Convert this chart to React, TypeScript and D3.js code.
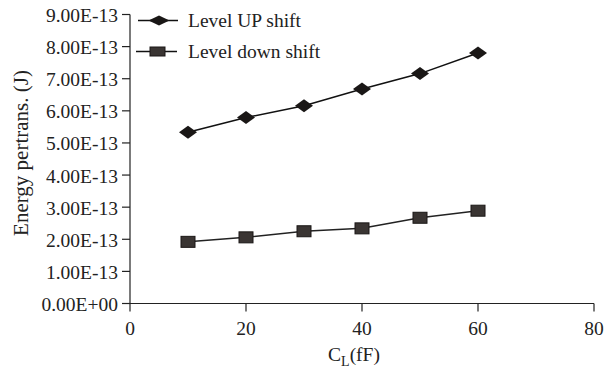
import React from "react";
import * as d3 from "d3";

const xValues = [10, 20, 30, 40, 50, 60];
const levelUp = [5.33e-13, 5.79e-13, 6.16e-13, 6.68e-13, 7.16e-13, 7.8e-13];
const levelDown = [1.92e-13, 2.06e-13, 2.25e-13, 2.34e-13, 2.67e-13, 2.89e-13];
const xTicks = [0, 20, 40, 60, 80];
const yTicks = [0, 1e-13, 2e-13, 3e-13, 4e-13, 5e-13, 6e-13, 7e-13, 8e-13, 9e-13];
const seriesNames = ["Level UP shift", "Level down shift"];

const W = 614;
const H = 368;
const FONT = "Liberation Serif, Times New Roman, Times, serif";

function fmt(v: number): string {
  if (v === 0) return "0.00E+00";
  const e = Math.floor(Math.log10(v) + 1e-9);
  const m = v / Math.pow(10, e);
  const sign = e < 0 ? "-" : "+";
  return `${m.toFixed(2)}E${sign}${String(Math.abs(e)).padStart(2, "0")}`;
}

const txt: React.CSSProperties = { fontFamily: FONT, fontSize: "19.5px" };

export default function App() {
  const x = d3.scaleLinear().domain([0, 80]).range([130, 594]);
  const y = d3.scaleLinear().domain([0, 9e-13]).range([303.5, 14.5]);
  const line = d3
    .line<number>()
    .x((_, i) => x(xValues[i]))
    .y((d) => y(d));

  const diamond = (cx: number, cy: number, w: number, h: number) =>
    `M${cx - w / 2},${cy} L${cx},${cy - h / 2} L${cx + w / 2},${cy} L${cx},${cy + h / 2} Z`;

  return (
    <svg
      width={W}
      height={H}
      style={{ position: "absolute", left: 0, top: 0, background: "#fff", fontFamily: FONT }}
    >
      {/* Y axis */}
      <line x1={130} x2={130} y1={y(9e-13)} y2={y(0)} stroke="#222" strokeWidth={1.2} />
      {yTicks.map((t) => (
        <g key={t}>
          <line x1={122} x2={130} y1={y(t)} y2={y(t)} stroke="#222" strokeWidth={1.2} />
          <text
            x={118}
            y={y(t) + 3}
            textAnchor="end"
            dominantBaseline="middle"
            style={txt}
            fill="#222"
          >
            {fmt(t)}
          </text>
        </g>
      ))}
      {/* X axis */}
      <line x1={x(0)} x2={x(80)} y1={y(0)} y2={y(0)} stroke="#222" strokeWidth={1.2} />
      {xTicks.map((t) => (
        <g key={t}>
          <line x1={x(t)} x2={x(t)} y1={y(0)} y2={y(0) + 8} stroke="#222" strokeWidth={1.2} />
          <text x={x(t)} y={335} textAnchor="middle" style={txt} fill="#222">
            {t}
          </text>
        </g>
      ))}
      {/* Axis titles */}
      <text
        transform={`translate(28,153) rotate(-90)`}
        textAnchor="middle"
        style={{ ...txt, fontSize: "21px" }}
        fill="#222"
      >
        Energy pertrans. (J)
      </text>
      <text x={354} y={361} textAnchor="middle" style={txt} fill="#222">
        C<tspan style={{ fontSize: "14px" }} dy={5}>L</tspan>
        <tspan dy={-5}>(fF)</tspan>
      </text>

      {/* Series lines */}
      <path d={line(levelUp) || ""} fill="none" stroke="#111" strokeWidth={1.5} />
      <path d={line(levelDown) || ""} fill="none" stroke="#222" strokeWidth={1.5} />

      {/* Markers */}
      {levelUp.map((v, i) => (
        <path key={`u${i}`} d={diamond(x(xValues[i]), y(v), 18, 13)} fill="#1a1716" />
      ))}
      {levelDown.map((v, i) => (
        <rect
          key={`d${i}`}
          x={x(xValues[i]) - 7}
          y={y(v) - 5.5}
          width={14}
          height={11}
          fill="#3a3533"
          stroke="#1a1716"
          strokeWidth={1}
        />
      ))}

      {/* Legend */}
      <line x1={138} x2={178} y1={20.5} y2={20.5} stroke="#111" strokeWidth={1.5} />
      <path d={diamond(159, 20.5, 21, 10)} fill="#1a1716" />
      <text x={188} y={27} style={txt} fill="#222">
        {seriesNames[0]}
      </text>
      <line x1={136} x2={177} y1={51.5} y2={51.5} stroke="#111" strokeWidth={1.5} />
      <rect x={150} y={47} width={15} height={9} fill="#3a3533" stroke="#1a1716" strokeWidth={1} />
      <text x={188} y={58} style={txt} fill="#222">
        {seriesNames[1]}
      </text>
    </svg>
  );
}
